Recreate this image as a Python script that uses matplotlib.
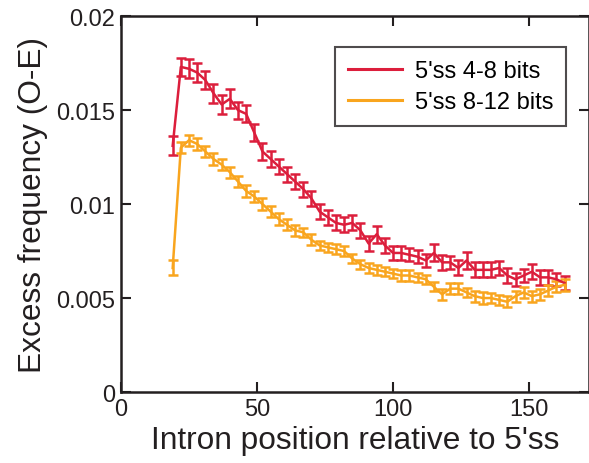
import numpy as np
import matplotlib
matplotlib.use('Agg')
import matplotlib.pyplot as plt
from matplotlib.lines import Line2D
from matplotlib.ticker import FuncFormatter

plt.rcParams['font.family'] = ['Liberation Sans', 'DejaVu Sans']

# intron positions (every 3 nt)
positions = list(range(19, 164, 3))

# 5'ss 4-8 bits
weak_freq = [0.0131, 0.0173, 0.0172, 0.0170, 0.0166, 0.0159, 0.0153, 0.0156, 0.0150, 0.0148,
             0.0138, 0.0128, 0.0124, 0.0120, 0.0116, 0.0112, 0.0108, 0.0103, 0.0096, 0.0093,
             0.0090, 0.0089, 0.0090, 0.0086, 0.0079, 0.0084, 0.0078, 0.0074, 0.0074, 0.0073,
             0.0072, 0.0070, 0.0074, 0.0069, 0.0069, 0.0066, 0.0070, 0.0065, 0.0065, 0.0065,
             0.0066, 0.0062, 0.0060, 0.0062, 0.0064, 0.0061, 0.0061, 0.0060, 0.0058]
weak_err = [0.0005, 0.0005, 0.0005, 0.0005, 0.0005, 0.0005, 0.0005, 0.0005, 0.00045, 0.00045,
            0.00045, 0.00045, 0.00045, 0.0004, 0.0004, 0.0004, 0.0004, 0.0004, 0.0004, 0.0004,
            0.0004, 0.0004, 0.0004, 0.0004, 0.0004, 0.00045, 0.0004, 0.00035, 0.00035, 0.00035,
            0.00035, 0.00035, 0.00045, 0.0004, 0.00035, 0.0004, 0.00045, 0.0004, 0.0004, 0.0004,
            0.00035, 0.0004, 0.00035, 0.00035, 0.0004, 0.0004, 0.0004, 0.00035, 0.00035]

# 5'ss 8-12 bits
strong_freq = [0.0066, 0.0130, 0.0134, 0.0132, 0.0128, 0.0124, 0.0121, 0.0117, 0.0112, 0.0107,
               0.0104, 0.0100, 0.0096, 0.0092, 0.0089, 0.0086, 0.0085, 0.0081, 0.0078, 0.0077,
               0.0076, 0.0075, 0.0071, 0.0068, 0.0066, 0.0065, 0.0064, 0.0063, 0.0062, 0.0062,
               0.0061, 0.0060, 0.0056, 0.0052, 0.0055, 0.0055, 0.0053, 0.0051, 0.0050, 0.0050,
               0.0049, 0.0048, 0.0051, 0.0053, 0.0051, 0.0052, 0.0054, 0.0056, 0.0057]
strong_err = [0.0004, 0.0003, 0.0003, 0.0003, 0.0003, 0.0003, 0.0003, 0.0003, 0.0003, 0.0003,
              0.0003, 0.0003, 0.0003, 0.0003, 0.0003, 0.0003, 0.00025, 0.0003, 0.00025, 0.00025,
              0.00025, 0.00025, 0.00025, 0.00025, 0.00025, 0.00025, 0.00025, 0.00025, 0.0003, 0.0003,
              0.00025, 0.00025, 0.00025, 0.0003, 0.0003, 0.0003, 0.00025, 0.0003, 0.0003, 0.00025,
              0.00025, 0.0003, 0.0003, 0.0003, 0.0003, 0.0003, 0.0003, 0.0003, 0.0003]

series_labels = ["5'ss 4-8 bits", "5'ss 8-12 bits"]

red = '#dc1e3c'
orange = '#f9a51e'
ink = '#231f20'

fig = plt.figure(figsize=(5.89, 4.64), dpi=100)
ax = fig.add_axes([0.2054, 0.153, 0.7946, 0.81])

ax.errorbar(positions, weak_freq, yerr=weak_err, color=red, lw=1.8, elinewidth=1.8,
            capsize=3.3, capthick=1.8)
ax.errorbar(positions, strong_freq, yerr=strong_err, color=orange, lw=1.8, elinewidth=1.8,
            capsize=3.3, capthick=1.8)

ax.set_xlim(0, 172)
ax.set_ylim(0, 0.02)
ax.set_xticks([0, 50, 100, 150])
ax.set_yticks([0, 0.005, 0.01, 0.015, 0.02])
ax.yaxis.set_major_formatter(FuncFormatter(lambda v, p: '%g' % v))
ax.tick_params(direction='in', length=7, width=1.5, top=True, right=True,
               labelsize=17, colors=ink, pad=4)
for s in ax.spines.values():
    s.set_linewidth(1.8)
    s.set_color(ink)

ax.set_xlabel("Intron position relative to 5'ss", fontsize=22.8, color=ink, labelpad=4)
ax.set_ylabel('Excess frequency (O-E)', fontsize=22.8, color=ink, labelpad=6)

handles = [Line2D([], [], color=red, lw=2.2), Line2D([], [], color=orange, lw=2.2)]
leg = ax.legend(handles, series_labels, loc='upper right', bbox_to_anchor=(0.951, 0.918),
                borderaxespad=0, fontsize=17, frameon=True, fancybox=False, edgecolor=ink,
                handlelength=2.25, handletextpad=0.55, borderpad=0.55, labelspacing=0.4)
leg.get_frame().set_linewidth(1.5)

fig.savefig('out.png', dpi=100)
